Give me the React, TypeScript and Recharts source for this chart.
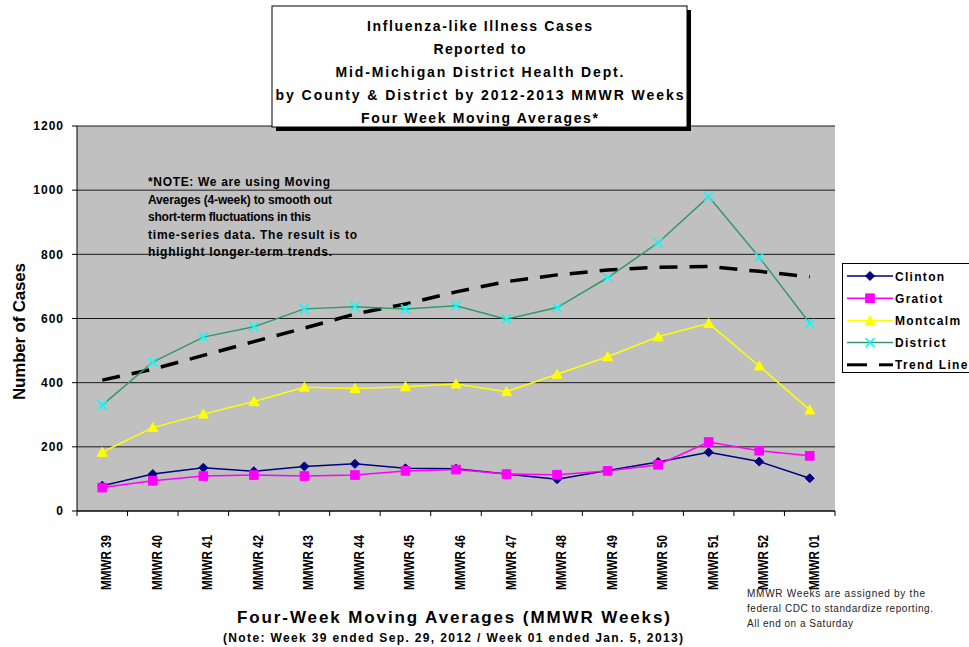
import React from 'react';
import { LineChart, Line, XAxis, YAxis, CartesianGrid, Legend } from 'recharts';

const weeks = ['MMWR 39', 'MMWR 40', 'MMWR 41', 'MMWR 42', 'MMWR 43', 'MMWR 44', 'MMWR 45', 'MMWR 46', 'MMWR 47', 'MMWR 48', 'MMWR 49', 'MMWR 50', 'MMWR 51', 'MMWR 52', 'MMWR 01'];
const clinton = [79, 115, 135, 124, 139, 147, 133, 132, 115, 99, 126, 153, 183, 154, 102];
const gratiot = [73, 94, 109, 112, 109, 112, 125, 129, 115, 113, 125, 144, 215, 188, 172];
const montcalm = [183, 260, 302, 341, 386, 382, 387, 396, 372, 426, 481, 543, 585, 452, 315];
const district = [330, 464, 542, 574, 630, 637, 630, 640, 598, 634, 727, 836, 980, 791, 585];
const trend = [408, 442, 485, 528, 570, 614, 645, 683, 715, 736, 751, 760, 762, 747, 730];
const yTicks = [0, 200, 400, 600, 800, 1000, 1200];

const titleLines = [
  'Influenza-like Illness Cases',
  'Reported to',
  'Mid-Michigan District Health Dept.',
  'by County & District by 2012-2013 MMWR Weeks',
  'Four Week Moving Averages*',
];
const noteLines = [
  '*NOTE: We are using Moving',
  'Averages (4-week) to smooth out',
  'short-term fluctuations in this',
  'time-series data.  The result is to',
  'highlight longer-term trends.',
];
const footLines = [
  'MMWR Weeks are assigned by the',
  'federal CDC to standardize reporting.',
  'All end on a Saturday',
];
const xTitle = 'Four-Week Moving Averages (MMWR Weeks)';
const xSubtitle = '(Note: Week 39 ended Sep. 29, 2012 / Week 01 ended Jan. 5, 2013)';
const yTitle = 'Number of Cases';

const data = weeks.map((w, i) => ({
  week: w,
  Clinton: clinton[i],
  Gratiot: gratiot[i],
  Montcalm: montcalm[i],
  District: district[i],
  Trend: trend[i],
}));

const FONT = '"Liberation Sans", Arial, sans-serif';

const COLORS = {
  Clinton: '#000080',
  Gratiot: '#FF00FF',
  Montcalm: '#FFFF00',
  District: '#339966',
  DistrictMarker: '#00FFFF',
  Trend: '#000000',
};

const Diamond = (p: any) => {
  const { cx, cy } = p;
  if (cx == null || cy == null) return <g />;
  const s = 4.5;
  return <path d={`M${cx},${cy - s}L${cx + s},${cy}L${cx},${cy + s}L${cx - s},${cy}Z`} fill={COLORS.Clinton} stroke={COLORS.Clinton} />;
};
const Square = (p: any) => {
  const { cx, cy } = p;
  if (cx == null || cy == null) return <g />;
  const s = 4.3;
  return <rect x={cx - s} y={cy - s} width={2 * s} height={2 * s} fill={COLORS.Gratiot} stroke={COLORS.Gratiot} />;
};
const Triangle = (p: any) => {
  const { cx, cy } = p;
  if (cx == null || cy == null) return <g />;
  const s = 5;
  return <path d={`M${cx},${cy - s}L${cx + s},${cy + s * 0.8}L${cx - s},${cy + s * 0.8}Z`} fill={COLORS.Montcalm} stroke={COLORS.Montcalm} />;
};
const Cross = (p: any) => {
  const { cx, cy } = p;
  if (cx == null || cy == null) return <g />;
  const s = 4.5;
  return <path d={`M${cx - s},${cy - s}L${cx + s},${cy + s}M${cx - s},${cy + s}L${cx + s},${cy - s}`} stroke={COLORS.DistrictMarker} strokeWidth={1.6} fill="none" />;
};

const WeekTick = (props: any) => {
  const { x, y, payload, index, visibleTicksCount, width } = props;
  const half = payload && typeof payload.offset === 'number' && payload.offset > 0
    ? payload.offset
    : (width || 758) / (visibleTicksCount || 15) / 2;
  const isLast = index === (visibleTicksCount || 15) - 1;
  return (
    <g>
      <line x1={x - half} y1={y} x2={x - half} y2={y + 5} stroke="#000" />
      {isLast && <line x1={x + half} y1={y} x2={x + half} y2={y + 5} stroke="#000" />}
      <text
        transform={`translate(${x + 3.5},${y + 24}) rotate(-90)`}
        textAnchor="end"
        dominantBaseline="central"
        fontSize={15}
        fontWeight="bold"
        fontFamily={FONT}
        fill="#000"
        textLength={55}
        lengthAdjust="spacingAndGlyphs"
      >
        {payload.value}
      </text>
    </g>
  );
};

const legendItems = [
  { name: 'Clinton', color: COLORS.Clinton, marker: 'diamond' },
  { name: 'Gratiot', color: COLORS.Gratiot, marker: 'square' },
  { name: 'Montcalm', color: COLORS.Montcalm, marker: 'triangle' },
  { name: 'District', color: COLORS.District, marker: 'cross' },
  { name: 'Trend Line', color: COLORS.Trend, marker: 'dash' },
];

const LegendContent = () => (
  <div style={{ width: 140, height: 110, background: '#fff', border: '1px solid #000', boxSizing: 'border-box' }}>
    <svg width={140} height={108}>
      {legendItems.map((it, i) => {
        const cy = 12 + i * 22.2;
        const mx = 27;
        let marker: any = null;
        if (it.marker === 'diamond') marker = <Diamond cx={mx} cy={cy} />;
        if (it.marker === 'square') marker = <Square cx={mx} cy={cy} />;
        if (it.marker === 'triangle') marker = <Triangle cx={mx} cy={cy} />;
        if (it.marker === 'cross') marker = <Cross cx={mx} cy={cy} />;
        return (
          <g key={it.name}>
            {it.marker === 'dash' ? (
              <g>
                <line x1={4} y1={cy} x2={24} y2={cy} stroke="#000" strokeWidth={3} />
                <line x1={36} y1={cy} x2={50} y2={cy} stroke="#000" strokeWidth={3} />
              </g>
            ) : (
              <line x1={4} y1={cy} x2={50} y2={cy} stroke={it.color} strokeWidth={1.5} />
            )}
            {marker}
            <text x={52} y={cy + 4.5} fontSize={12} fontWeight="bold" fontFamily={FONT} letterSpacing={1.3} fill="#000">
              {it.name}
            </text>
          </g>
        );
      })}
    </svg>
  </div>
);

export default function App() {
  return (
    <div style={{ position: 'absolute', left: 0, top: 0, width: 969, height: 647, overflow: 'hidden', background: '#fff', fontFamily: FONT }}>
      <LineChart
        width={969}
        height={647}
        data={data}
        margin={{ top: 126, right: 134, bottom: 0, left: 0 }}
        style={{ fontFamily: FONT }}
      >
        <CartesianGrid vertical={false} horizontal stroke="#1a1a1a" fill="#C0C0C0" fillOpacity={1} />
        <XAxis
          dataKey="week"
          scale="band"
          height={136}
          interval={0}
          tickLine={false}
          tickSize={0}
          tickMargin={0}
          axisLine={{ stroke: '#000' }}
          tick={<WeekTick />}
        />
        <YAxis
          width={77}
          domain={[0, 1200]}
          ticks={yTicks}
          interval={0}
          tickSize={5}
          tickMargin={8}
          axisLine={{ stroke: '#000' }}
          tickLine={{ stroke: '#000' }}
          tick={{ fontSize: 12, fontWeight: 'bold', fill: '#000', fontFamily: FONT, letterSpacing: 1 }}
        />
        <YAxis
          yAxisId="right"
          orientation="right"
          width={0}
          domain={[0, 1200]}
          tick={false}
          tickLine={false}
          axisLine={{ stroke: '#808080' }}
        />
        <Line dataKey="Trend" stroke="#000" strokeWidth={3.5} strokeDasharray="18 12" dot={false} isAnimationActive={false} />
        <Line dataKey="Clinton" stroke={COLORS.Clinton} strokeWidth={1.5} dot={<Diamond />} isAnimationActive={false} />
        <Line dataKey="Gratiot" stroke={COLORS.Gratiot} strokeWidth={1.5} dot={<Square />} isAnimationActive={false} />
        <Line dataKey="Montcalm" stroke={COLORS.Montcalm} strokeWidth={1.5} dot={<Triangle />} isAnimationActive={false} />
        <Line dataKey="District" stroke={COLORS.District} strokeWidth={1.5} dot={<Cross />} isAnimationActive={false} />
        <Legend
          layout="horizontal"
          verticalAlign="middle"
          align="right"
          content={<LegendContent />}
          wrapperStyle={{ left: 842, top: 263, width: 0, height: 0, overflow: 'visible', right: 'auto', bottom: 'auto' }}
        />
      </LineChart>
      <svg width={969} height={647} style={{ position: 'absolute', left: 0, top: 0, pointerEvents: 'none' }}>
        <rect x={276} y={10} width={415} height={121} fill="#000" />
        <rect x={272} y={6} width={415} height={121} fill="#fff" stroke="#000" strokeWidth={1} />
        {titleLines.map((t, i) => (
          <text key={t} x={479.5} y={31 + i * 23.1} textAnchor="middle" fontSize={14} fontWeight="bold" fontFamily={FONT} fill="#000"
            textLength={[225, 92, 288, 408, 237][i]} lengthAdjust="spacing">{t}</text>
        ))}
        {noteLines.map((t, i) => (
          <text key={t} x={148} y={186 + i * 17.6} fontSize={12} fontWeight="bold" fontFamily={FONT} fill="#000"
            textLength={[182, 184, 163, 209, 184][i]} lengthAdjust="spacing">{t}</text>
        ))}
        {footLines.map((t, i) => (
          <text key={t} x={747} y={597 + i * 15} fontSize={10} fontFamily={FONT} fill="#222"
            textLength={[178, 186, 106][i]} lengthAdjust="spacing">{t}</text>
        ))}
        <text x={453.5} y={623} textAnchor="middle" fontSize={17} fontWeight="bold" fontFamily={FONT} fill="#000" textLength={433} lengthAdjust="spacing">{xTitle}</text>
        <text x={453} y={642} textAnchor="middle" fontSize={12} fontWeight="bold" fontFamily={FONT} fill="#000" textLength={460} lengthAdjust="spacing">{xSubtitle}</text>
        <text transform="translate(25,331.5) rotate(-90)" textAnchor="middle" fontSize={17} fontWeight="bold" fontFamily={FONT} fill="#000" textLength={137} lengthAdjust="spacing">{yTitle}</text>
      </svg>
    </div>
  );
}
